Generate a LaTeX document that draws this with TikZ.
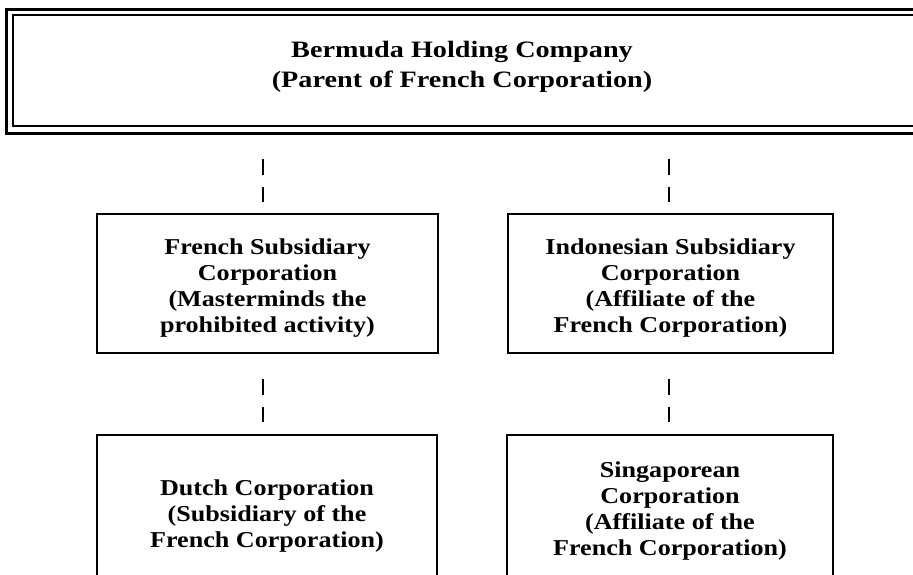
\documentclass[tikz,border=0pt]{standalone}
\usepackage{fontspec}
\setmainfont[FakeStretch=1.15]{Liberation Serif}
\newfontfamily\topfont[FakeStretch=1.2]{Liberation Serif}
\begin{document}
\begin{tikzpicture}[x=1pt,y=-1pt,
  orgbox/.style={draw=black, line width=2pt, inner sep=0pt, fill=none},
  boxtext/.style={align=center, inner sep=0pt, font=\bfseries\fontsize{22.7}{26}\selectfont},
  toptext/.style={align=center, inner sep=0pt, font=\topfont\bfseries\fontsize{23.5}{30}\selectfont},
  conn/.style={draw=black, line width=2pt, dash pattern=on 16pt off 12pt}]
\clip (0,0) rectangle (913,574);
\fill[white] (0,0) rectangle (913,574);
% top double-framed box
\node[orgbox, line width=3pt, minimum width=925pt, minimum height=124pt] (bhc) at (468.5,71) {};
\node[orgbox, line width=1.6pt, minimum width=920pt, minimum height=111pt] (bhcin) at (473,70.5) {};
\node[toptext] (bhct) at (462,67) {Bermuda Holding Company\\(Parent of French Corporation)};
% middle boxes
\node[orgbox, minimum width=341pt, minimum height=139pt] (fsub) at (267.5,283.5) {};
\node[boxtext] (fsubt) at (267.5,288.5) {French Subsidiary\\Corporation\\(Masterminds the\\prohibited activity)};
\node[orgbox, minimum width=325pt, minimum height=139pt] (isub) at (670.5,283.5) {};
\node[boxtext] (isubt) at (670.5,288.5) {Indonesian Subsidiary\\Corporation\\(Affiliate of the\\French Corporation)};
% bottom boxes (cut off by the page edge)
\node[orgbox, minimum width=340pt, minimum height=160pt] (dutch) at (267,515) {};
\node[boxtext] (dutcht) at (267,516) {Dutch Corporation\\(Subsidiary of the\\French Corporation)};
\node[orgbox, minimum width=326pt, minimum height=160pt] (sing) at (670,515) {};
\node[boxtext] (singt) at (670,511.5) {Singaporean\\Corporation\\(Affiliate of the\\French Corporation)};
% dashed connectors
\draw[conn, shorten <=24pt, shorten >=11pt] (bhc.south -| 263,0) -- (fsub.north -| 263,0);
\draw[conn, shorten <=24pt, shorten >=11pt] (bhc.south -| 669,0) -- (isub.north -| 669,0);
\draw[conn, shorten <=25pt, shorten >=12pt] (fsub.south -| 263,0) -- (dutch.north -| 263,0);
\draw[conn, shorten <=25pt, shorten >=12pt] (isub.south -| 669,0) -- (sing.north -| 669,0);
\end{tikzpicture}
\end{document}
